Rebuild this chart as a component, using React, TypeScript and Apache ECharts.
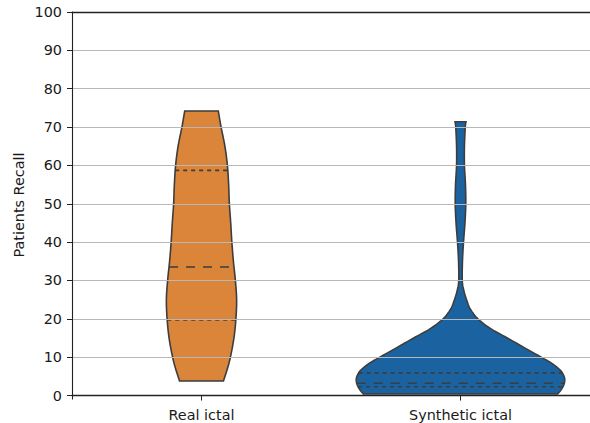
import React, { useEffect, useRef } from "react";
import * as echarts from "echarts";

const categories = ["Real ictal", "Synthetic ictal"];
const yTicks = [0, 10, 20, 30, 40, 50, 60, 70, 80, 90, 100];

// violin outlines: recall value and relative density
const realValues = [3.8, 7, 10, 15, 20, 25, 30, 35, 40, 45, 50, 55, 60, 65, 70, 74.2];
const realDensity = [0.212, 0.25, 0.279, 0.313, 0.332, 0.339, 0.327, 0.308, 0.293, 0.282, 0.269, 0.262, 0.25, 0.226, 0.189, 0.162];
const realQuartiles = [19.7, 33.5, 58.7];

const synthValues = [0.4, 1.5, 3, 4.5, 6, 7, 8.5, 10, 12.5, 15, 17.5, 20, 22.5, 25, 27.5, 30, 35, 40, 45, 50, 55, 60, 65, 70, 71.4];
const synthDensity = [0.9375, 0.971, 1.0, 1.005, 0.981, 0.947, 0.875, 0.779, 0.615, 0.452, 0.288, 0.168, 0.096, 0.058, 0.031, 0.017, 0.019, 0.029, 0.043, 0.051, 0.048, 0.038, 0.038, 0.046, 0.053];
const synthQuartiles = [2.3, 3.2, 5.9];

const colors = ["#DA8539", "#1B63A0"];
const profiles = [
  { values: realValues, density: realDensity, quartiles: realQuartiles },
  { values: synthValues, density: synthDensity, quartiles: synthQuartiles },
];

function smoothProfile(vals: number[], dens: number[], steps = 8): number[][] {
  const pts = vals.map((v, i) => [v, dens[i]]);
  const out: number[][] = [];
  const n = pts.length;
  for (let i = 0; i < n - 1; i++) {
    const p0 = pts[Math.max(i - 1, 0)];
    const p1 = pts[i];
    const p2 = pts[i + 1];
    const p3 = pts[Math.min(i + 2, n - 1)];
    for (let s = 0; s < steps; s++) {
      const t = s / steps;
      const t2 = t * t;
      const t3 = t2 * t;
      const f = (a: number, b: number, c: number, d: number) =>
        0.5 * (2 * b + (-a + c) * t + (2 * a - 5 * b + 4 * c - d) * t2 + (-a + 3 * b - 3 * c + d) * t3);
      out.push([f(p0[0], p1[0], p2[0], p3[0]), Math.max(0, f(p0[1], p1[1], p2[1], p3[1]))]);
    }
  }
  out.push(pts[n - 1]);
  return out;
}

function densityAt(pts: number[][], v: number): number {
  for (let i = 0; i < pts.length - 1; i++) {
    const a = pts[i];
    const b = pts[i + 1];
    if (v >= a[0] && v <= b[0]) {
      const t = (v - a[0]) / (b[0] - a[0] || 1);
      return a[1] + (b[1] - a[1]) * t;
    }
  }
  return pts[pts.length - 1][1];
}

export default function App() {
  const ref = useRef<HTMLDivElement>(null);
  useEffect(() => {
    if (!ref.current) return;
    const chart = echarts.init(ref.current, null, { renderer: "svg" });
    const font = "DejaVu Sans";
    const fs = 14.4;
    const lineColor = "#3d3d3d";
    const option: any = {
      animation: false,
      backgroundColor: "#ffffff",
      grid: { left: 72, right: -2, top: 12, bottom: 24, containLabel: false },
      xAxis: [
        {
          type: "category",
          data: categories,
          boundaryGap: true,
          z: 6,
          axisLine: { show: true, lineStyle: { color: "#222", width: 1.3 } },
          axisTick: { show: true, alignWithLabel: true, length: 5, lineStyle: { color: "#222", width: 1 } },
          axisLabel: { color: "#1a1a1a", fontFamily: font, fontSize: fs, margin: 9 },
          splitLine: { show: false },
        },
        {
          type: "category",
          data: categories,
          position: "top",
          z: 6,
          axisLine: { show: true, lineStyle: { color: "#222", width: 1.3 } },
          axisTick: { show: false },
          axisLabel: { show: false },
          splitLine: { show: false },
        },
      ],
      yAxis: {
        type: "value",
        min: -0.9,
        max: 100,
        z: 5,
        axisLine: { show: true, lineStyle: { color: "#222", width: 1.1 } },
        axisTick: { show: true, length: 5, customValues: yTicks, lineStyle: { color: "#222", width: 1 } },
        axisLabel: { customValues: yTicks, color: "#1a1a1a", fontFamily: font, fontSize: fs, margin: 10 },
        splitLine: { show: true, lineStyle: { color: "#b8b8b8", width: 1 } },
      },
      graphic: [
        {
          type: "text",
          x: 19,
          y: 205,
          rotation: Math.PI / 2,
          style: {
            text: "Patients Recall",
            fontFamily: font,
            fontSize: fs,
            fill: "#1a1a1a",
            align: "center",
            verticalAlign: "middle",
          },
        },
      ],
      series: [
        {
          type: "custom",
          xAxisIndex: 0,
          yAxisIndex: 0,
          z: 2,
          data: [[0], [1]],
          renderItem: (params: any, api: any) => {
            const idx = api.value(0);
            const prof = profiles[idx];
            const pts = smoothProfile(prof.values, prof.density);
            const cx = api.coord([idx, 0])[0];
            const band = api.size([1, 0])[0];
            const scale = band * 0.4;
            const left: number[][] = [];
            const right: number[][] = [];
            pts.forEach((p) => {
              const y = api.coord([idx, p[0]])[1];
              left.push([cx - p[1] * scale, y]);
              right.push([cx + p[1] * scale, y]);
            });
            const poly = left.concat(right.reverse());
            const children: any[] = [
              {
                type: "polygon",
                shape: { points: poly },
                style: { fill: colors[idx], stroke: lineColor, lineWidth: 1.6 },
              },
            ];
            prof.quartiles.forEach((q, qi) => {
              const d = densityAt(pts, q) * scale;
              const y = api.coord([idx, q])[1];
              children.push({
                type: "line",
                shape: { x1: cx - d, y1: y, x2: cx + d, y2: y },
                style: {
                  stroke: lineColor,
                  lineWidth: 1.6,
                  lineDash: qi === 1 ? [9, 8] : [4, 4],
                },
              });
            });
            return { type: "group", children };
          },
        },
      ],
    };
    chart.setOption(option);
    return () => chart.dispose();
  }, []);
  return (
    <div
      ref={ref}
      style={{ position: "absolute", left: 0, top: 0, width: 590, height: 423 }}
    />
  );
}
